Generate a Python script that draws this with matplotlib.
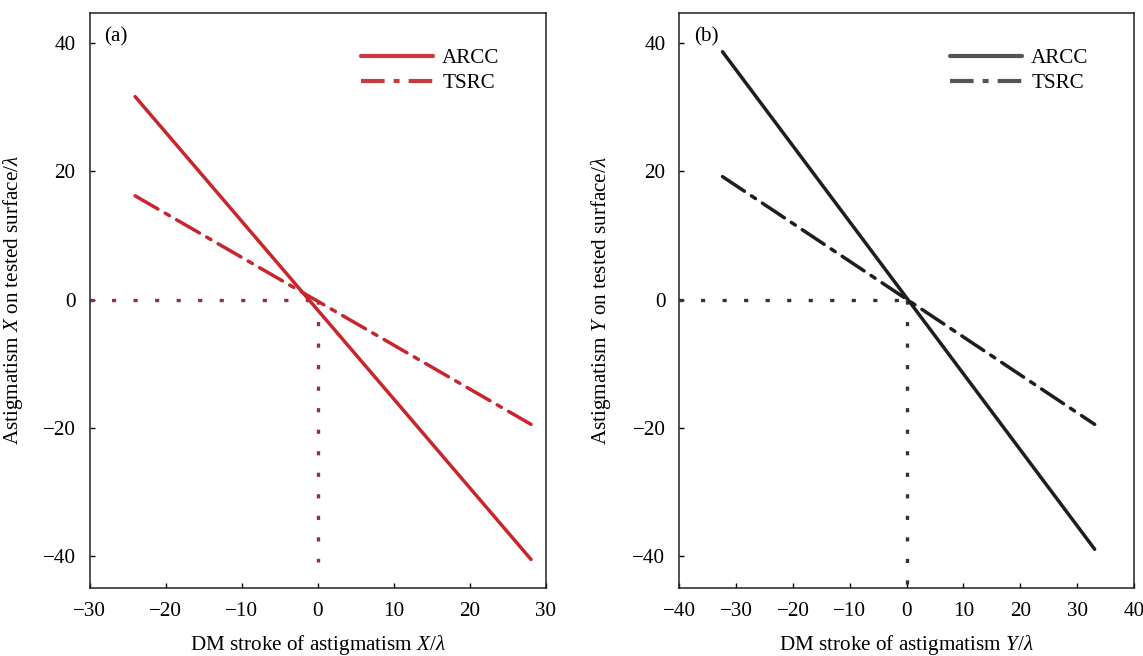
import matplotlib
matplotlib.use("Agg")
import matplotlib.pyplot as plt
from matplotlib.lines import Line2D

plt.rcParams['font.family'] = ['Liberation Serif', 'DejaVu Serif']
plt.rcParams['mathtext.fontset'] = 'custom'
plt.rcParams['mathtext.rm'] = 'Liberation Serif'
plt.rcParams['mathtext.it'] = 'Liberation Serif:italic'
plt.rcParams['lines.scale_dashes'] = False

# ---- data ----
a_x = [-24.0, 28.1]
a_arcc = [31.7, -40.6]
a_tsrc = [16.2, -19.5]
a_ref_h_x = [-30, 0]
a_ref_h_y = [0, 0]
a_ref_v_x = [0, 0]
a_ref_v_y = [0, -41]

b_x = [-32.4, 33.1]
b_arcc = [38.7, -39.0]
b_tsrc = [19.2, -19.5]
b_ref_h_x = [-40, 0]
b_ref_h_y = [0, 0]
b_ref_v_x = [0, 0]
b_ref_v_y = [0, -45]

a_xticks = [-30, -20, -10, 0, 10, 20, 30]
b_xticks = [-40, -30, -20, -10, 0, 10, 20, 30, 40]
yticks = [-40, -20, 0, 20, 40]

labels = ["ARCC", "TSRC"]

FS = 15.2
W, H = 1143, 656
fig = plt.figure(figsize=(W / 100, H / 100), dpi=100)

ax_a = fig.add_axes([89.5 / W, 1 - 588.3 / H, 456 / W, 575.6 / H])
ax_b = fig.add_axes([679.3 / W, 1 - 588.3 / H, 454.6 / W, 575.6 / H])

TSRC_DASH = (0, (19, 6, 3.5, 6))
DOT = (0, (3, 12.5))


def panel(ax, x, arcc, tsrc, hx, hy, vx, vy, xlim, xticks, line_c, leg_c, dot_c,
          tag, xlab, ylab, ylab_x):
    ax.plot(hx, hy, color=dot_c, lw=2.4, linestyle=DOT, dash_capstyle='butt')
    ax.plot(vx, vy, color=dot_c, lw=2.4, linestyle=DOT, dash_capstyle='butt')
    ax.plot(x, arcc, color=line_c, lw=2.5, solid_capstyle='round')
    ax.plot(x, tsrc, color=line_c, lw=2.5, linestyle=TSRC_DASH,
            dash_capstyle='round')
    ax.set_xlim(*xlim)
    ax.set_ylim(-45.1, 44.8)
    ax.set_xticks(xticks)
    ax.set_yticks(yticks)
    ax.tick_params(direction='in', length=3.5, width=1, labelsize=FS,
                   top=False, right=False)
    ax.tick_params(axis='x', pad=10)
    ax.tick_params(axis='y', pad=10)
    for s in ax.spines.values():
        s.set_linewidth(1.1)
        s.set_color('#222222')
    ax.text(0.032, 0.958, tag, transform=ax.transAxes, fontsize=FS,
            ha='left', va='center')
    ax.set_xlabel(xlab, fontsize=FS)
    ax.xaxis.set_label_coords(0.5, -0.077)
    ax.set_ylabel(ylab, fontsize=FS)
    ax.yaxis.set_label_coords(ylab_x, 0.5)
    handles = [
        Line2D([], [], color=leg_c, lw=3.0, solid_capstyle='round'),
        Line2D([], [], color=leg_c, lw=3.0, linestyle=(0, (17, 6.5, 4.3, 6.5)),
               dash_capstyle='butt'),
    ]
    ax.legend(handles, labels, loc='upper left', bbox_to_anchor=(0.595, 0.938),
              frameon=False, fontsize=FS, handlelength=3.4, handletextpad=0.45,
              labelspacing=0.25, borderpad=0, borderaxespad=0)


panel(ax_a, a_x, a_arcc, a_tsrc, a_ref_h_x, a_ref_h_y, a_ref_v_x, a_ref_v_y,
      (-30, 30), a_xticks, '#c8262d', '#c93a40', '#96294c', '(a)',
      r'DM stroke of astigmatism $X$/$\lambda$',
      r'Astigmatism $X$ on tested surface/$\lambda$', -0.142)
panel(ax_b, b_x, b_arcc, b_tsrc, b_ref_h_x, b_ref_h_y, b_ref_v_x, b_ref_v_y,
      (-40, 40), b_xticks, '#1e1e1e', '#555555', '#333333', '(b)',
      r'DM stroke of astigmatism $Y$/$\lambda$',
      r'Astigmatism $Y$ on tested surface/$\lambda$', -0.145)

fig.savefig('out.png', dpi=100)
